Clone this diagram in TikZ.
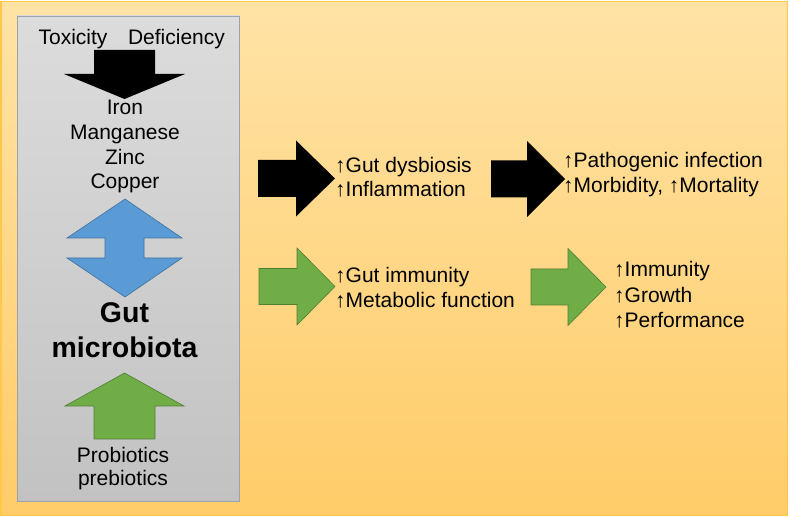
\documentclass[tikz,border=0pt]{standalone}
\usepackage{fontspec}
\setmainfont{Liberation Sans}
\usepackage{xcolor}
\usepackage{tikz}
\definecolor{bgtop}{HTML}{FFE3A6}
\definecolor{bgbot}{HTML}{FFCC68}
\definecolor{bgline}{HTML}{FFC84B}
\definecolor{boxtop}{HTML}{DCDCDC}
\definecolor{boxbot}{HTML}{C2C2C2}
\definecolor{boxline}{HTML}{9AA3AE}
\definecolor{blufill}{HTML}{5B9BD5}
\definecolor{bluline}{HTML}{41719C}
\definecolor{grnfill}{HTML}{70AD47}
\definecolor{grnline}{HTML}{507E32}
\def\blackrow{258/296/335/178.5, 491/527/565/179}
\def\greenrow{259/297/335/286.5, 531/568/606/287}
\tikzstyle{every node}=[inner sep=0pt, font=\fontsize{21}{25}\selectfont]
\tikzstyle{lbl}=[anchor=base west]
\tikzstyle{mid}=[anchor=base]
\tikzstyle{big}=[anchor=base, font=\fontsize{28.5}{34}\selectfont\bfseries]

\begin{document}
\begin{tikzpicture}[x=1pt,y=-1pt]
\useasboundingbox (0,0) rectangle (790,518);

\shade[top color=bgtop, bottom color=bgbot, draw=bgline, line width=1.2pt]
  (1,1.5) rectangle (787.5,515.5);

% left panel
\shade[top color=boxtop, bottom color=boxbot, draw=boxline, line width=0.8pt]
  (17,16) rectangle (239,501);

\node[mid] (tox) at (73,45) {Toxicity};
\node[mid] (def) at (176.5,45) {Deficiency};
\fill[black] (94,50) -- (155,50) -- (155,74) -- (185,74) -- (124.5,99) -- (64,74) -- (94,74) -- cycle;

\node[mid] (iron) at (125,115) {Iron};
\node[mid] (mn) at ([yshift=-24.5pt]iron.base) {Manganese};
\node[mid] (zn) at ([yshift=-25pt]mn.base) {Zinc};
\node[mid] (cu) at ([yshift=-24pt]zn.base) {Copper};

\filldraw[fill=blufill, draw=bluline, line width=0.6pt]
  (125,199) -- (182,238) -- (144,238) -- (144,258) -- (182,258) -- (125,297)
  -- (67,258) -- (105,258) -- (105,238) -- (67,238) -- cycle;

\node[big] (gut) at (124.5,323) {Gut};
\node[big] (mic) at ([yshift=-35pt]gut.base) {microbiota};

\filldraw[fill=grnfill, draw=grnline, line width=0.6pt]
  (124.5,373) -- (184,406) -- (155,406) -- (155,439) -- (94,439) -- (94,406) -- (65,406) -- cycle;

\node[mid] (pro) at (123,463) {Probiotics};
\node[mid] (pre) at ([yshift=-22pt]pro.base) {prebiotics};

% right side arrows
\foreach \l/\b/\t/\c in \blackrow {
  \fill[black] (\l,\c-18.5) -- (\b,\c-18.5) -- (\b,\c-38) -- (\t,\c)
    -- (\b,\c+38) -- (\b,\c+18.5) -- (\l,\c+18.5) -- cycle;
}
\foreach \l/\b/\t/\c in \greenrow {
  \filldraw[fill=grnfill, draw=grnline, line width=0.6pt]
    (\l,\c-18) -- (\b,\c-18) -- (\b,\c-38.5) -- (\t,\c)
    -- (\b,\c+38.5) -- (\b,\c+18) -- (\l,\c+18) -- cycle;
}

\node[lbl] (dys) at (335,173) {↑Gut dysbiosis};
\node[lbl] (inf) at ([yshift=-24pt]dys.base west) {↑Inflammation};

\node[lbl] (pat) at (563,168) {↑Pathogenic infection};
\node[lbl] (mor) at ([yshift=-25pt]pat.base west) {↑Morbidity, ↑Mortality};

\node[lbl] (gim) at (335,283) {↑Gut immunity};
\node[lbl] (met) at ([yshift=-25pt]gim.base west) {↑Metabolic function};

\node[lbl] (imm) at (614,277) {↑Immunity};
\node[lbl] (gro) at ([yshift=-25.5pt]imm.base west) {↑Growth};
\node[lbl] (per) at ([yshift=-25.5pt]gro.base west) {↑Performance};

\end{tikzpicture}
\end{document}
